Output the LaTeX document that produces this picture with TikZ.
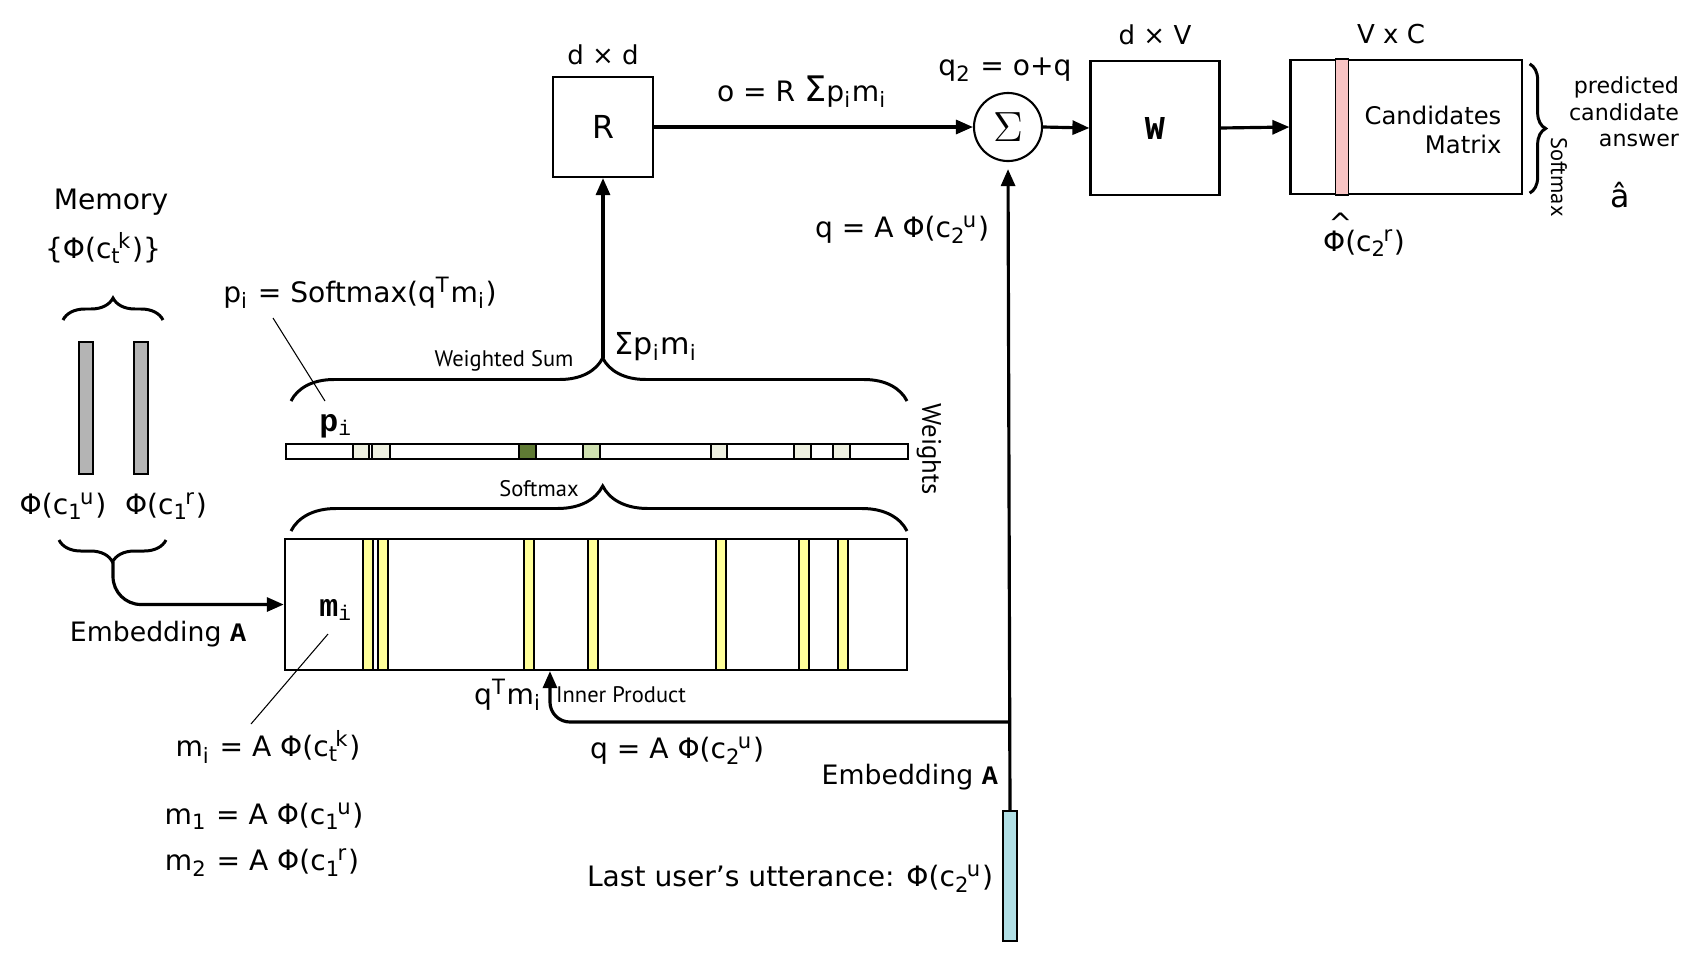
\documentclass[tikz,border=0pt]{standalone}
\usepackage{fontspec}
\setmainfont{DejaVu Sans}
\newfontfamily\narrowfont{PT Sans}
\newfontfamily\courfont{Liberation Mono}
\usetikzlibrary{positioning,arrows.meta,decorations.pathreplacing}

\definecolor{memgray}{HTML}{B4B4B4}
\definecolor{stripey}{HTML}{FFFF99}
\definecolor{candpink}{HTML}{F8C4C4}
\definecolor{uttcyan}{HTML}{B0DFE5}
\definecolor{wlight}{HTML}{EEF0E0}
\definecolor{wmid}{HTML}{CFE0B0}
\definecolor{wdark}{HTML}{5F7A34}

\newcommand{\cu}[2]{c\textsubscript{#1}\kern-0.12em\textsuperscript{#2}}
\newcommand{\bt}[1]{{\courfont\bfseries #1}}
\newcommand{\hatphi}{\rlap{\hspace{0.2em}\raisebox{0.62em}{\^{}}}Φ}

\begin{document}
\begin{tikzpicture}[
  x=0.01cm, y=-0.01cm,
  >={Triangle[length=0.17cm,width=0.14cm]},
  txt/.style={font=\fontsize{8}{9.6}\selectfont, inner sep=1pt},
  small/.style={font=\narrowfont\fontsize{6.4}{7.6}\selectfont, inner sep=1pt},
  box/.style={draw, line width=0.6pt, inner sep=0pt},
  arr/.style={->, line width=0.9pt},
  brc/.style={decorate, decoration={brace, amplitude=#1}, line width=0.85pt},
  lead/.style={line width=0.3pt},
  cell/.style={draw, line width=0.5pt},
  stripe/.style={draw, line width=0.5pt, fill=stripey}
]
\useasboundingbox (0,0) rectangle (1700,960);

% output side
\node[box, minimum width=1cm, minimum height=1cm, font=\fontsize{9}{9}\selectfont] (R) at (603,127) {R};
\node[txt, above=2pt of R, font=\fontsize{7.4}{9}\selectfont] (rdim) {d × d};
\node[circle, draw, line width=0.6pt, minimum size=0.68cm, inner sep=0pt, font=\fontsize{12}{12}\selectfont] (sum) at (1008,127) {$\Sigma$};
\node[box, minimum width=1.29cm, minimum height=1.34cm, font=\courfont\bfseries\fontsize{9.5}{9.5}\selectfont] (W) at (1155,128) {W};
\node[txt, above=3pt of W, font=\fontsize{7.4}{9}\selectfont] (wdim) {d × V};
\node[box, minimum width=2.31cm, minimum height=1.34cm] (cand) at (1406,127) {};
\draw[cell, fill=candpink] ([xshift=0.46cm]cand.north west) rectangle ([xshift=0.59cm]cand.south west);
\node[txt, above=3pt of cand, xshift=-0.15cm, font=\fontsize{7.4}{9}\selectfont] (cdim) {V x C};
\node[txt, align=right, font=\fontsize{6.9}{8}\selectfont] (candlbl) at (1433,130) {Candidates\\Matrix};
\draw[brc=0.16cm] ([shift={(7,5)}]cand.north east) -- ([shift={(7,-2)}]cand.south east);
\node[small, rotate=-90] (csoft) at (1559,177) {Softmax};
\node[txt, align=right, font=\fontsize{6.3}{7.6}\selectfont] (pred) at (1624,112) {predicted\\candidate\\answer};
\node[txt, font=\fontsize{9}{9}\selectfont] (ahat) at (1620,195) {â};
\node[txt] (phir) at (1364,235) {\hatphi(\cu{2}{r})};

\draw[arr] (R.east) -- (sum.west);
\draw[arr] (sum.east) -- (W.west);
\draw[arr] (W.east) -- (cand.west);
\node[txt] (olbl) at (802,92) {o = R {\fontsize{10}{10}\selectfont Σ}p\textsubscript{i}m\textsubscript{i}};
\node[txt] (q2lbl) at (1005,70) {q\textsubscript{2} = o+q};
\node[txt] (qtop) at (902,230) {q = A Φ(\cu{2}{u})};

% memory
\node[txt] (memlbl) at (111,202) {Memory};
\node[txt] (memset) at (103,248) {\{Φ(\cu{t}{k})\}};
\draw[brc=0.22cm] (63,320) -- (163,320);
\node[box, fill=memgray, minimum width=0.14cm, minimum height=1.32cm] (mem1) at (86,408) {};
\node[box, fill=memgray, minimum width=0.14cm, minimum height=1.32cm] (mem2) at (141,408) {};
\node[txt] (phiu) at (63,506) {Φ(\cu{1}{u})};
\node[txt] (phir1) at (166,506) {Φ(\cu{1}{r})};
\draw[brc=0.22cm, decoration={mirror}] (59,540) -- (166,540);
\coordinate (embtip) at (113,562);
\node[txt, font=\fontsize{7.6}{9}\selectfont] (embl) at (158,634) {Embedding \bt{A}};

% weights
\draw[brc=0.43cm, decoration={aspect=0.506}] (291,401) -- (907,401);
\coordinate (wstip) at (603,358);
\draw[arr] (wstip) -- (R.south);
\node[small] (wsum) at (504,361) {Weighted Sum};
\node[txt, font=\fontsize{8.6}{9}\selectfont] (spm) at (656,347) {Σp\textsubscript{i}m\textsubscript{i}};
\node[txt] (pilbl) at (360,293) {p\textsubscript{i} = Softmax(q\textsuperscript{T}m\textsubscript{i})};
\coordinate (pitop) at (273,318);
\coordinate (pibot) at (325,401);
\draw[lead] (pitop) -- (pibot);
\node[txt, font=\courfont\fontsize{9}{9}\selectfont] (pi) at (336,426) {\textbf{p}\textsubscript{i}};
\node[box, minimum width=6.22cm, minimum height=0.15cm] (wbar) at (597,451.5) {};
\foreach \a/\b/\c in {353/369/wlight, 372/390/wlight, 519/536/wdark, 583/600/wmid,
                      711/727/wlight, 794/811/wlight, 833/850/wlight}
  \draw[cell, fill=\c] (\a,444) rectangle (\b,459);
\node[small, font=\narrowfont\fontsize{7.6}{8}\selectfont, rotate=-90] (wts) at (929,449) {Weights};

% memory matrix
\draw[brc=0.45cm, decoration={aspect=0.506}] (291,531) -- (907,531);
\node[small] (smx) at (539,489) {Softmax};
\node[box, minimum width=6.22cm, minimum height=1.31cm] (mat) at (596,604.5) {};
\foreach \a in {363,378,524,588,716,799,838}
  \draw[stripe] (\a,539) rectangle ++(10,131);
\node[txt, font=\courfont\fontsize{9}{9}\selectfont] (mi) at (336,610) {\textbf{m}\textsubscript{i}};
\coordinate (mitop) at (328,634);
\coordinate (mibot) at (251,724);
\draw[lead] (mitop) -- (mibot);
\draw[arr, rounded corners=0.28cm] (embtip) |- (mat.west);
\node[txt] (mieq) at (268,747) {m\textsubscript{i} = A Φ(\cu{t}{k})};
\node[txt] (m1eq) at (264,816) {m\textsubscript{1} = A Φ(\cu{1}{u})};
\node[txt] (m2eq) at (262,863) {m\textsubscript{2} = A Φ(\cu{1}{r})};

% query
\node[box, fill=uttcyan, minimum width=0.14cm, minimum height=1.3cm] (utt) at (1010,876) {};
\draw[arr, shorten >=2pt] (utt.north) -- (sum.south);
\coordinate (ipj) at (1010,722);
\draw[arr, rounded corners=0.2cm] (ipj) -| ([xshift=-0.46cm]mat.south);
\node[txt, anchor=east, font=\fontsize{7.6}{9}\selectfont] (embq) at (1002,777) {Embedding \bt{A}};
\node[txt] (uttlbl) at (790,879) {Last user’s utterance: Φ(\cu{2}{u})};
\node[txt] (qbot) at (677,751) {q = A Φ(\cu{2}{u})};
\node[txt] (qtm) at (508,695) {q\textsuperscript{T}m\textsubscript{i}};
\node[small] (inner) at (621,695) {Inner Product};
\end{tikzpicture}
\end{document}
